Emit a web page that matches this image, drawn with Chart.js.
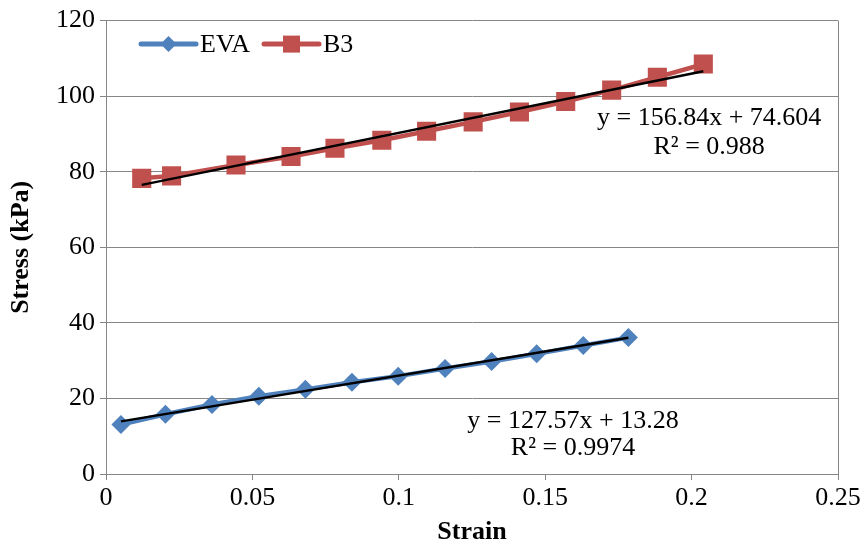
<!DOCTYPE html>
<html>
<head>
<meta charset="utf-8">
<script src="https://cdn.jsdelivr.net/npm/chart.js@4/dist/chart.umd.min.js"></script>
<style>
html,body{margin:0;padding:0;background:#fff;}
#wrap{width:865px;height:550px;position:relative;}
</style>
</head>
<body>
<div id="wrap"><canvas id="c" width="865" height="550"></canvas></div>
<script>
// ---- data ----
const evaStrain = [0.0051, 0.0203, 0.0362, 0.0522, 0.0681, 0.0840, 0.0998, 0.1158, 0.1317, 0.1471, 0.1630, 0.1784];
const evaStress = [13.1, 15.8, 18.4, 20.6, 22.4, 24.3, 25.9, 27.9, 29.8, 31.8, 34.0, 36.1];
const b3Strain = [0.0122, 0.0224, 0.0444, 0.0632, 0.0782, 0.0942, 0.1095, 0.1254, 0.1412, 0.1570, 0.1727, 0.1883, 0.2040];
const b3Stress = [78.25, 78.9, 81.8, 84.05, 86.2, 88.35, 90.7, 93.2, 95.8, 98.6, 101.6, 105.0, 108.5];
const seriesNames = ['EVA', 'B3'];
// linear trendlines as printed on the chart: [slope, intercept]
const evaTrend = [127.57, 13.28];
const b3Trend = [156.84, 74.604];
const evaEquation = ['y = 127.57x + 13.28', 'R² = 0.9974'];
const b3Equation = ['y = 156.84x + 74.604', 'R² = 0.988'];
// label anchor (data coords) for each equation block
const evaEqAnchor = [0.1595, 14.1, 6.9];
const b3EqAnchor = [0.2060, 94.3, 86.6];
const xTicks = [0, 0.05, 0.1, 0.15, 0.2, 0.25];
const yTicks = [0, 20, 40, 60, 80, 100, 120];
const xTitle = 'Strain';
const yTitle = 'Stress (kPa)';

const BLUE = '#4F81BD', RED = '#C0504D', GRID = '#868686';
const FONT = "'Liberation Serif', 'Times New Roman', serif";

function pts(xs, ys){ return xs.map((x,i)=>({x:x, y:ys[i]})); }
function trend(xs, t){
  const a = Math.min(...xs), b = Math.max(...xs);
  return [{x:a, y:t[0]*a + t[1]}, {x:b, y:t[0]*b + t[1]}];
}

const legendPlugin = {
  id: 'xlLegend',
  afterDraw(chart){
    const ctx = chart.ctx, ca = chart.chartArea;
    const items = [
      {label: chart.data.datasets[0].label, color: BLUE, shape: 'diamond', x0: ca.left + 35},
      {label: chart.data.datasets[1].label, color: RED, shape: 'square', x0: ca.left + 158}
    ];
    const y = ca.top + 23.5;
    ctx.save();
    items.forEach(it => {
      ctx.strokeStyle = it.color; ctx.lineWidth = 5; ctx.lineCap = 'round';
      ctx.beginPath(); ctx.moveTo(it.x0, y); ctx.lineTo(it.x0 + 55, y); ctx.stroke();
      const cx = it.x0 + 27.5;
      ctx.fillStyle = it.color;
      ctx.beginPath();
      if (it.shape === 'diamond') {
        const r = 8;
        ctx.moveTo(cx, y - r); ctx.lineTo(cx + r, y); ctx.lineTo(cx, y + r); ctx.lineTo(cx - r, y); ctx.closePath();
      } else {
        ctx.rect(cx - 8.5, y - 8.5, 17, 17);
      }
      ctx.fill();
      ctx.fillStyle = '#000'; ctx.font = '26px ' + FONT;
      ctx.textAlign = 'left'; ctx.textBaseline = 'middle';
      ctx.fillText(it.label, it.x0 + 59, y + 1);
    });
    ctx.restore();
  }
};

const eqPlugin = {
  id: 'eqLabels',
  afterDraw(chart){
    const ctx = chart.ctx, xs = chart.scales.x, ys = chart.scales.y;
    ctx.save();
    ctx.fillStyle = '#000'; ctx.font = '26px ' + FONT;
    ctx.textAlign = 'center'; ctx.textBaseline = 'middle';
    [[evaEquation, evaEqAnchor], [b3Equation, b3EqAnchor]].forEach(([txt, a]) => {
      const px = xs.getPixelForValue(a[0]);
      ctx.fillText(txt[0], px, ys.getPixelForValue(a[1]));
      ctx.fillText(txt[1], px, ys.getPixelForValue(a[2]));
    });
    ctx.restore();
  }
};

const framePlugin = {
  id: 'frame',
  beforeDatasetsDraw(chart){
    const ctx = chart.ctx, ca = chart.chartArea;
    ctx.save();
    ctx.strokeStyle = GRID; ctx.lineWidth = 1;
    ctx.beginPath();
    ctx.moveTo(Math.round(ca.right) + 0.5, ca.top);
    ctx.lineTo(Math.round(ca.right) + 0.5, ca.bottom);
    ctx.stroke();
    ctx.restore();
  }
};

new Chart(document.getElementById('c'), {
  type: 'scatter',
  data: {
    datasets: [
      {label: seriesNames[0], data: pts(evaStrain, evaStress), showLine: true,
       borderColor: BLUE, backgroundColor: BLUE, borderWidth: 4.5,
       pointStyle: 'rectRot', pointRadius: 9.5, pointBorderWidth: 0, order: 2},
      {label: seriesNames[1], data: pts(b3Strain, b3Stress), showLine: true,
       borderColor: RED, backgroundColor: RED, borderWidth: 4.5,
       pointStyle: 'rect', pointRadius: 13.5, pointBorderWidth: 0, order: 2},
      {label: 'EVA trend', data: trend(evaStrain, evaTrend), showLine: true,
       borderColor: '#000', borderWidth: 2.5, pointRadius: 0, order: 1},
      {label: 'B3 trend', data: trend(b3Strain, b3Trend), showLine: true,
       borderColor: '#000', borderWidth: 2.5, pointRadius: 0, order: 1}
    ]
  },
  options: {
    responsive: false,
    animation: false,
    layout: {padding: {top: 19, right: 27, left: 0, bottom: 0}},
    plugins: {legend: {display: false}, tooltip: {enabled: false}},
    scales: {
      x: {
        type: 'linear', min: 0, max: 0.25,
        afterBuildTicks: s => { s.ticks = xTicks.map(v => ({value: v})); },
        afterFit: s => { s.height = 76; },
        ticks: {font: {family: FONT, size: 26}, color: '#000', padding: 3, maxRotation: 0,
                callback: v => String(v)},
        grid: {drawOnChartArea: false, color: GRID, tickLength: 6},
        border: {display: true, color: GRID, width: 1},
        title: {display: true, text: xTitle, color: '#000',
                font: {family: FONT, size: 26, weight: 'bold'}, padding: {top: 0, bottom: 2}}
      },
      y: {
        type: 'linear', min: 0, max: 120,
        afterBuildTicks: s => { s.ticks = yTicks.map(v => ({value: v})); },
        afterFit: s => { s.width = 106; },
        ticks: {font: {family: FONT, size: 26}, color: '#000', padding: 5},
        grid: {color: GRID, tickLength: 6},
        border: {display: true, color: GRID, width: 1},
        title: {display: true, text: yTitle, color: '#000',
                font: {family: FONT, size: 26, weight: 'bold'}, padding: {top: 6, bottom: 0}}
      }
    }
  },
  plugins: [framePlugin, legendPlugin, eqPlugin]
});
</script>
</body>
</html>
